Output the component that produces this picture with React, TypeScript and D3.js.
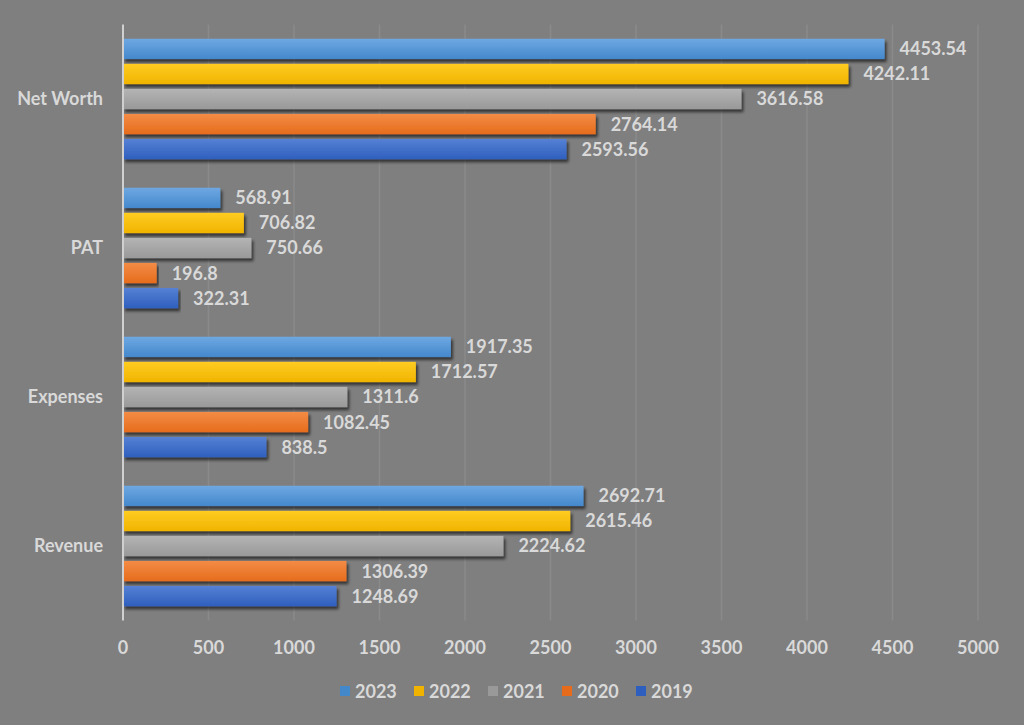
import * as d3 from "d3";
import { useEffect, useRef } from "react";

const CATEGORIES = ["Net Worth", "PAT", "Expenses", "Revenue"];
const YEARS = ["2023", "2022", "2021", "2020", "2019"];
const VALUES: Record<string, number[]> = {
	"2023": [4453.54, 568.91, 1917.35, 2692.71],
	"2022": [4242.11, 706.82, 1712.57, 2615.46],
	"2021": [3616.58, 750.66, 1311.6, 2224.62],
	"2020": [2764.14, 196.8, 1082.45, 1306.39],
	"2019": [2593.56, 322.31, 838.5, 1248.69],
};
const X_TICKS = [0, 500, 1000, 1500, 2000, 2500, 3000, 3500, 4000, 4500, 5000];

const COLORS: Record<string, [string, string]> = {
	"2023": ["#6ea8e2", "#4488cc"],
	"2022": ["#ffcc22", "#f0b400"],
	"2021": ["#b4b4b4", "#999999"],
	"2020": ["#f38c46", "#e66c1c"],
	"2019": ["#5581d4", "#2f5fbe"],
};

const W = 1024;
const H = 725;
const TEXT = "#d9d9d9";
const FONT = "Lato, 'Open Sans', sans-serif";
const FS = 18;

export default function App() {
	const svgRef = useRef<SVGSVGElement>(null);

	useEffect(() => {
		document.body.style.margin = "0";
		if (!svgRef.current) return;
		const svg = d3.select(svgRef.current);
		svg.selectAll("*").remove();

		svg.append("rect").attr("width", W).attr("height", H).attr("fill", "#7f7f7f");

		const defs = svg.append("defs");
		YEARS.forEach((y) => {
			const g = defs
				.append("linearGradient")
				.attr("id", `grad-${y}`)
				.attr("x1", 0)
				.attr("y1", 0)
				.attr("x2", 0)
				.attr("y2", 1);
			g.append("stop").attr("offset", "0%").attr("stop-color", COLORS[y][0]);
			g.append("stop").attr("offset", "100%").attr("stop-color", COLORS[y][1]);
		});
		const shadow = defs
			.append("filter")
			.attr("id", "shadow")
			.attr("x", "-5%")
			.attr("y", "-30%")
			.attr("width", "110%")
			.attr("height", "180%");
		shadow
			.append("feDropShadow")
			.attr("dx", 2)
			.attr("dy", 3)
			.attr("stdDeviation", 1.6)
			.attr("flood-color", "#000")
			.attr("flood-opacity", 0.6);

		const x = d3.scaleLinear().domain([0, 5000]).range([123, 978]);
		const y0 = d3.scaleBand().domain(CATEGORIES).range([24.5, 620.5]);
		const y1 = d3.scaleBand().domain(YEARS).range([12, y0.bandwidth() - 12]).paddingInner(0.19).paddingOuter(0.09);

		// gridlines
		svg
			.append("g")
			.selectAll("line")
			.data(X_TICKS.slice(1))
			.join("line")
			.attr("x1", (d) => x(d))
			.attr("x2", (d) => x(d))
			.attr("y1", 24.5)
			.attr("y2", 620.5)
			.attr("stroke", "#8a8a8a")
			.attr("stroke-width", 1.5);

		// bars
		const groups = svg
			.append("g")
			.selectAll("g")
			.data(CATEGORIES)
			.join("g")
			.attr("transform", (c) => `translate(0,${y0(c)})`);

		groups
			.selectAll("rect")
			.data((c, ci) => YEARS.map((yr) => ({ yr, v: VALUES[yr][ci] })))
			.join("rect")
			.attr("x", x(0))
			.attr("y", (d) => y1(d.yr)!)
			.attr("width", (d) => x(d.v) - x(0))
			.attr("height", y1.bandwidth())
			.attr("fill", (d) => `url(#grad-${d.yr})`)
			.attr("filter", "url(#shadow)");

		groups
			.selectAll("text")
			.data((c, ci) => YEARS.map((yr) => ({ yr, v: VALUES[yr][ci] })))
			.join("text")
			.attr("x", (d) => x(d.v) + 15)
			.attr("y", (d) => y1(d.yr)! + y1.bandwidth() / 2)
			.attr("dy", "0.36em")
			.attr("fill", TEXT)
			.attr("font-family", FONT)
			.attr("font-weight", "bold")
			.attr("font-size", FS)
			.text((d) => String(d.v));

		// axis line
		svg
			.append("line")
			.attr("x1", x(0))
			.attr("x2", x(0))
			.attr("y1", 24.5)
			.attr("y2", 620.5)
			.attr("stroke", "#d0d0d0")
			.attr("stroke-width", 2);

		// category labels
		svg
			.append("g")
			.selectAll("text")
			.data(CATEGORIES)
			.join("text")
			.attr("x", 103)
			.attr("y", (c) => y0(c)! + y0.bandwidth() / 2)
			.attr("dy", "0.36em")
			.attr("text-anchor", "end")
			.attr("fill", TEXT)
			.attr("font-family", FONT)
			.attr("font-weight", "bold")
			.attr("font-size", FS)
			.text((c) => c);

		// x tick labels
		svg
			.append("g")
			.selectAll("text")
			.data(X_TICKS)
			.join("text")
			.attr("x", (d) => x(d))
			.attr("y", 654)
			.attr("text-anchor", "middle")
			.attr("fill", TEXT)
			.attr("font-family", FONT)
			.attr("font-weight", "bold")
			.attr("font-size", FS)
			.text((d) => String(d));

		// legend
		const legend = svg
			.append("g")
			.selectAll("g")
			.data(YEARS)
			.join("g")
			.attr("transform", (_, i) => `translate(${340 + i * 74},0)`);
		legend
			.append("rect")
			.attr("x", 0)
			.attr("y", 686)
			.attr("width", 10)
			.attr("height", 10)
			.attr("fill", (d) => COLORS[d][1]);
		legend
			.append("text")
			.attr("x", 15)
			.attr("y", 698)
			.attr("fill", TEXT)
			.attr("font-family", FONT)
			.attr("font-weight", "bold")
			.attr("font-size", FS)
			.text((d) => d);
	}, []);

	return <svg ref={svgRef} width={W} height={H} style={{ display: "block" }} />;
}
